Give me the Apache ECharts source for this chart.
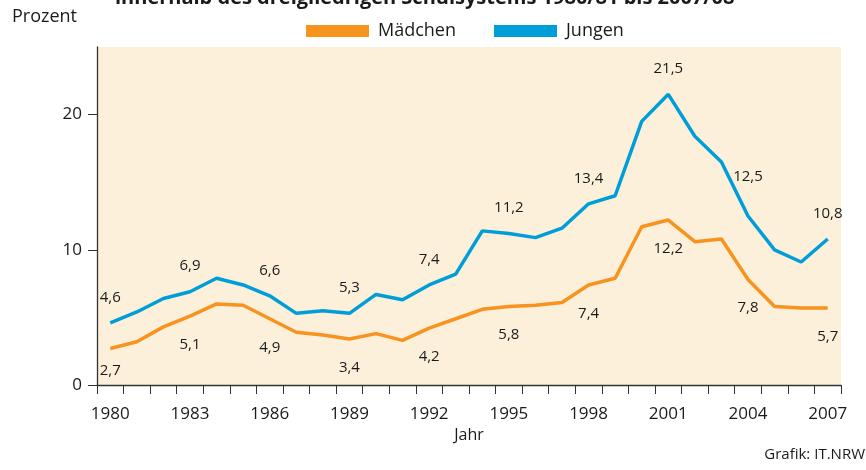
<!DOCTYPE html>
<html>
<head>
<meta charset="utf-8">
<script src="https://cdn.jsdelivr.net/npm/echarts@6/dist/echarts.min.js"></script>
<style>
  html, body { margin: 0; background: #fff; }
  #chart { width: 866px; height: 470px; }
</style>
</head>
<body>
<div id="chart"></div>
<script>
  // Anteil (Prozent) nach Jahr
  var years = ['1980', '1981', '1982', '1983', '1984', '1985', '1986', '1987', '1988', '1989',
    '1990', '1991', '1992', '1993', '1994', '1995', '1996', '1997', '1998', '1999',
    '2000', '2001', '2002', '2003', '2004', '2005', '2006', '2007'];
  var maedchen = [2.7, 3.2, 4.3, 5.1, 6.0, 5.9, 4.9, 3.9, 3.7, 3.4,
    3.8, 3.3, 4.2, 4.9, 5.6, 5.8, 5.9, 6.1, 7.4, 7.9,
    11.7, 12.2, 10.6, 10.8, 7.8, 5.8, 5.7, 5.7];
  var jungen = [4.6, 5.4, 6.4, 6.9, 7.9, 7.4, 6.6, 5.3, 5.5, 5.3,
    6.7, 6.3, 7.4, 8.2, 11.4, 11.2, 10.9, 11.6, 13.4, 14.0,
    19.5, 21.5, 18.4, 16.5, 12.5, 10.0, 9.1, 10.8];
  var labelYears = ['1980', '1983', '1986', '1989', '1992', '1995', '1998', '2001', '2004', '2007'];
  var yTicks = [0, 10, 20];

  var ink = '#1a1a1a';
  var font = '"Open Sans", "Noto Sans", sans-serif';

  function fmt(p) { return String(p.value).replace('.', ','); }

  // labels: Jungen oben, Mädchen unten; ein paar Ausnahmen im Abstand
  function withLabels(values, pos, dist, extra) {
    return values.map(function (v, i) {
      var y = years[i];
      var show = labelYears.indexOf(y) >= 0;
      return {
        value: v,
        label: {
          show: show,
          position: pos,
          distance: extra[y] != null ? extra[y] : dist
        }
      };
    });
  }

  var chart = echarts.init(document.getElementById('chart'));
  chart.setOption({
    animation: false,
    textStyle: { fontFamily: font, color: ink },
    title: {
      text: 'innerhalb des dreigliedrigen Schulsystems 1980/81 bis 2007/08',
      left: 110,
      top: -17,
      textStyle: { fontSize: 20, fontWeight: 'bold', color: ink, fontFamily: font }
    },
    legend: {
      data: ['Mädchen', 'Jungen'],
      left: 301,
      top: 17,
      icon: 'rect',
      itemWidth: 63,
      itemHeight: 12,
      itemGap: 38,
      textStyle: { fontSize: 18, color: ink, fontFamily: font, padding: [0, 0, 0, 4] }
    },
    grid: {
      left: 97, right: 25, top: 47, bottom: 85,
      show: true, backgroundColor: '#fcf0da', borderWidth: 0
    },
    xAxis: {
      type: 'category',
      data: years,
      boundaryGap: true,
      name: 'Jahr',
      nameLocation: 'middle',
      nameGap: 41,
      nameTextStyle: { fontSize: 16, color: ink, fontFamily: font },
      axisLine: { lineStyle: { color: '#333', width: 1.3 } },
      axisTick: { show: true, interval: 0, length: 9, lineStyle: { color: '#333' } },
      axisLabel: { interval: 2, margin: 21, fontSize: 17, color: ink, fontFamily: font },
      splitLine: { show: false }
    },
    yAxis: {
      type: 'value',
      min: 0,
      max: 25,
      axisLine: { show: true, lineStyle: { color: '#333', width: 1.3 } },
      axisTick: { show: true, length: 9, customValues: yTicks, lineStyle: { color: '#333' } },
      axisLabel: { customValues: yTicks, margin: 15, fontSize: 17, color: ink, fontFamily: font },
      splitLine: { show: false }
    },
    graphic: [
      {
        type: 'text', left: 12, top: 8,
        style: { text: 'Prozent', fontSize: 18, fill: ink, fontFamily: font }
      },
      {
        type: 'text', right: 1, top: 447,
        style: { text: 'Grafik: IT.NRW', fontSize: 15, fill: ink, fontFamily: font }
      }
    ],
    series: [
      {
        name: 'Mädchen',
        type: 'line',
        data: withLabels(maedchen, 'bottom', 21, { '1980': 15 }),
        symbol: 'circle',
        symbolSize: 0,
        color: '#f7931e',
        lineStyle: { width: 3.5, color: '#f7931e' },
        label: { formatter: fmt, fontSize: 15, color: ink, fontFamily: font }
      },
      {
        name: 'Jungen',
        type: 'line',
        data: withLabels(jungen, 'top', 18, { '2004': 32 }),
        symbol: 'circle',
        symbolSize: 0,
        color: '#009ed9',
        lineStyle: { width: 3.5, color: '#009ed9' },
        label: { formatter: fmt, fontSize: 15, color: ink, fontFamily: font }
      }
    ]
  });
</script>
</body>
</html>
